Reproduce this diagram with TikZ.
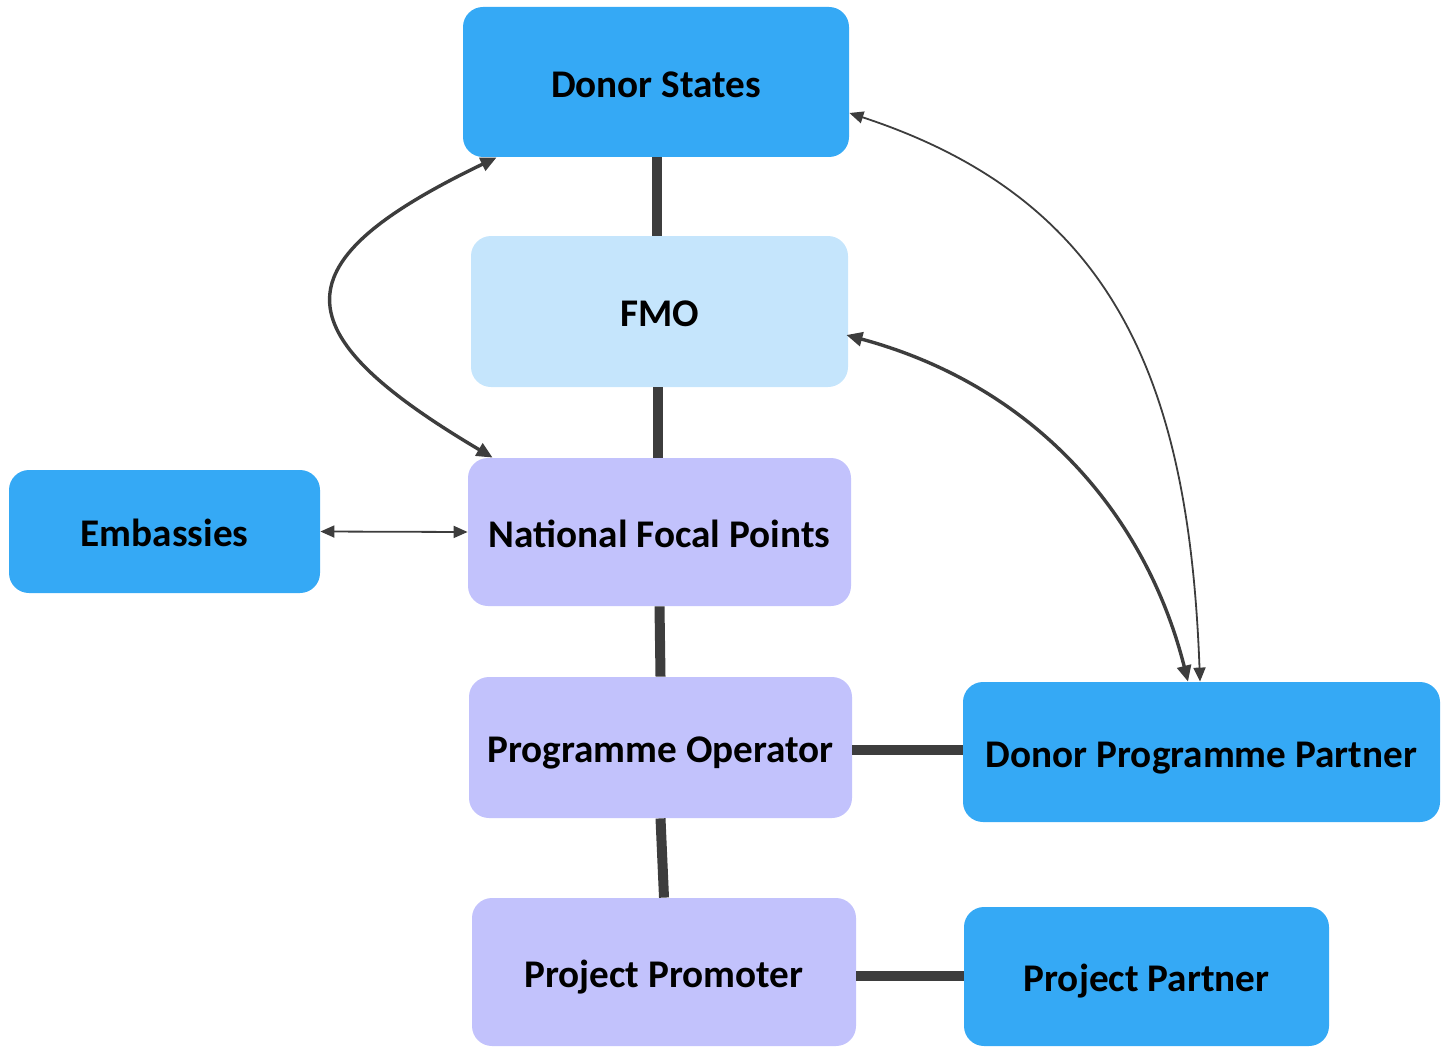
\documentclass[tikz,border=0pt]{standalone}
\usepackage{fontspec}
\setmainfont{Carlito}
\usetikzlibrary{arrows.meta}
\definecolor{cblue}{HTML}{35A9F5}
\definecolor{clight}{HTML}{C5E5FC}
\definecolor{clav}{HTML}{C2C2FC}
\definecolor{cline}{HTML}{3D3D3D}
\tikzset{
  box/.style={rounded corners=10pt, inner sep=0pt, text height=17pt, text depth=1.8pt, font=\fontsize{19.6}{23}\selectfont\bfseries, text=black},
  bluebox/.style={box, fill=cblue},
  lightbox/.style={box, fill=clight},
  lavbox/.style={box, fill=clav},
  thickline/.style={draw=cline, line width=5pt},
  thinarrow/.style={draw=cline, line width=0.9pt, {Triangle[length=7pt,width=6pt]}-{Triangle[length=7pt,width=6pt]}},
  midarrow/.style={draw=cline, line width=1.7pt, {Triangle[length=8pt,width=7pt]}-{Triangle[length=8pt,width=7pt]}},
}
\begin{document}
\begin{tikzpicture}[x=0.5pt,y=-0.5pt]
\useasboundingbox (0,0) rectangle (1443,1048);
\node[bluebox, minimum width=193pt, minimum height=75pt] (ds) at (656,82) {Donor States};
\node[lightbox, minimum width=188.5pt, minimum height=75.5pt] (fmo) at (659.5,311.5) {FMO};
\node[bluebox, minimum width=155.5pt, minimum height=61.5pt] (emb) at (164.5,531.5) {Embassies};
\node[lavbox, minimum width=191.5pt, minimum height=74pt] (nfp) at (659.5,532) {National Focal Points};
\node[lavbox, minimum width=191.5pt, minimum height=70.5pt] (po) at (660.5,747.5) {Programme Operator};
\node[bluebox, minimum width=238.5pt, minimum height=70pt] (dpp) at (1201.5,752) {Donor Programme Partner};
\node[lavbox, minimum width=192pt, minimum height=74pt] (pp) at (664,972) {Project Promoter};
\node[bluebox, minimum width=182.5pt, minimum height=69.5pt] (ppa) at (1146.5,976.5) {Project Partner};

% thick connectors
\draw[thickline] ([xshift=0.5pt]ds.south) -- ([xshift=-1.25pt]fmo.north);
\draw[thickline] ([xshift=-0.75pt]fmo.south) -- ([xshift=-0.75pt]nfp.north);
\draw[thickline] (nfp.south) -- (po.north);
\draw[thickline] (po.south) -- (pp.north);
\draw[thickline] ([yshift=-1pt]po.east) -- ([yshift=-1pt]po.east -| dpp.west);
\draw[thickline] ([yshift=-2pt]pp.east) -- ([yshift=-2pt]pp.east -| ppa.west);

% arrows
\draw[thinarrow] (emb.east) -- (nfp.west);
\draw[midarrow] ([xshift=12.5pt]nfp.north west) .. controls (279,331) and (279,262) .. ([xshift=17pt]ds.south west);
\draw[midarrow] ([xshift=-1pt,yshift=-11.75pt]fmo.east) .. controls (1039,387) and (1147,519) .. ([xshift=-6.75pt]dpp.north);
\draw[thinarrow] ([yshift=-15.5pt]ds.east) .. controls (1115,200) and (1189,382) .. ([xshift=-0.75pt]dpp.north);
\end{tikzpicture}
\end{document}
